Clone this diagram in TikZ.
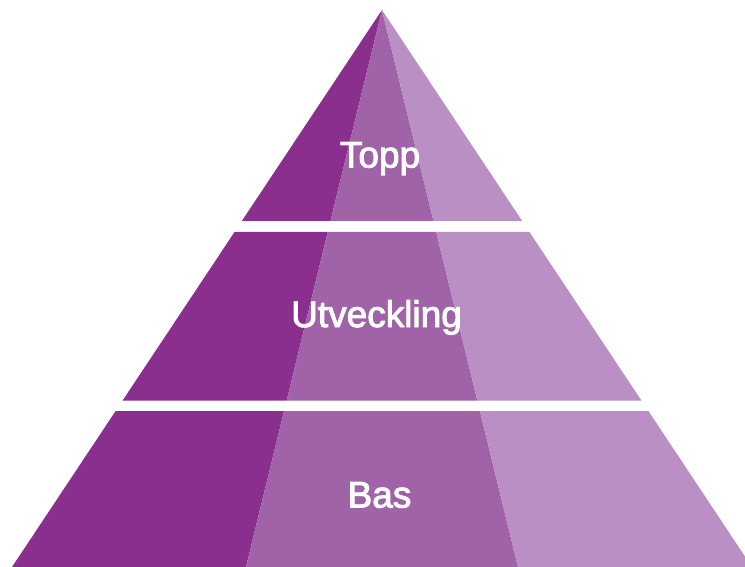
\documentclass[tikz,border=0pt]{standalone}
\usepackage{fontspec}
\setmainfont{Liberation Sans}
\newfontfamily\labelfont[FakeBold=2.5]{Liberation Sans}
\definecolor{pdark}{RGB}{139,47,143}
\definecolor{pmid}{RGB}{160,99,168}
\definecolor{plight}{RGB}{186,143,195}
\tikzset{
  label/.style={text=white, font=\labelfont\fontsize{37}{42}\selectfont, anchor=base, inner sep=0pt}
}
\begin{document}
\begin{tikzpicture}[x=1pt,y=-1pt]
\useasboundingbox (0,0) rectangle (745,567);
\coordinate (apex) at (382,10);
\coordinate (bl) at (12,567);
\coordinate (s1) at (246,567);
\coordinate (s2) at (518,567);
\coordinate (br) at (752,567);
\begin{scope}
\clip (0,0) rectangle (745,221) (0,232) rectangle (745,400.7) (0,411) rectangle (745,567);
\fill[pdark] (apex) -- (bl) -- (s1) -- cycle;
\fill[pmid] (apex) -- (s1) -- (s2) -- cycle;
\fill[plight] (apex) -- (s2) -- (br) -- cycle;
\end{scope}
\node[label] (topp) at (380,167.5) {Topp};
\node[label] (utv) at (376.5,327) {Utveckling};
\node[label] (bas) at (379.5,507.5) {Bas};
\end{tikzpicture}
\end{document}
